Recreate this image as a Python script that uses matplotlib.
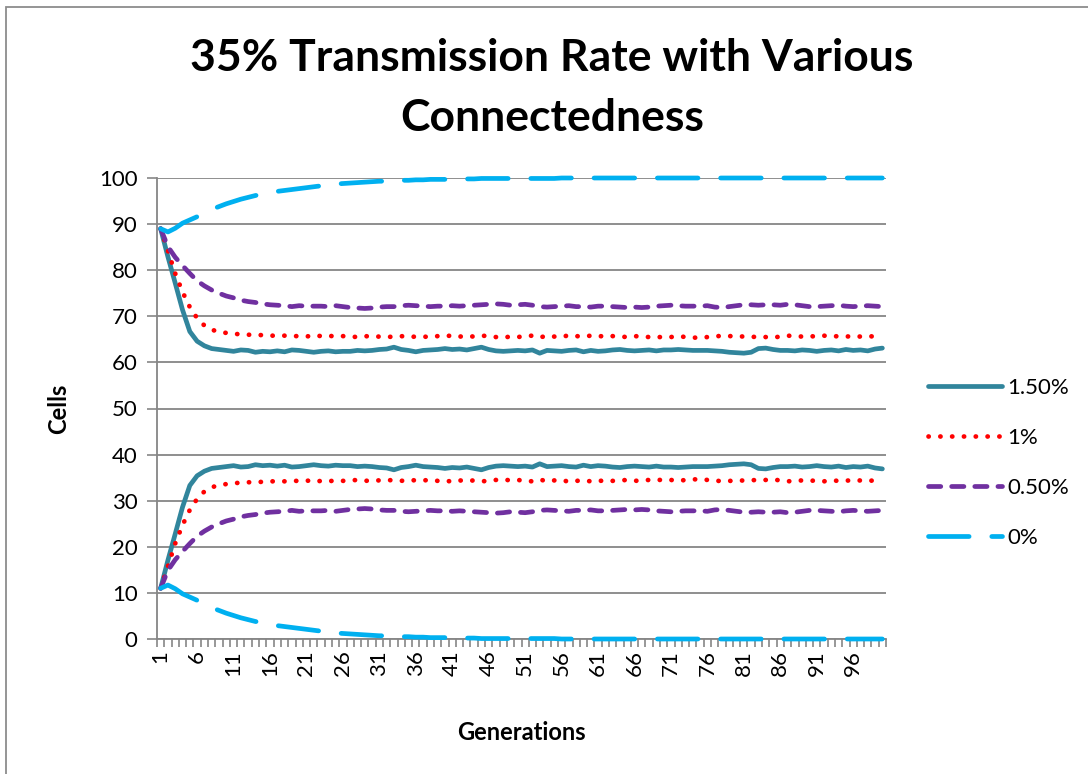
import matplotlib
matplotlib.use("Agg")
import matplotlib.pyplot as plt
from matplotlib.patches import Rectangle
from matplotlib.ticker import FixedLocator, NullFormatter

plt.rcParams['font.family'] = ['Lato', 'DejaVu Sans']

generations = list(range(1, 101))
x_tick_labels = [str(g) for g in range(1, 101, 5)]
series_names = ["1.50%", "1%", "0.50%", "0%"]

# Cells per generation for each connectedness level: the rising/falling
# pair of lines for every level (the two populations total 100 cells).
upper_150 = [
    89.0, 82.9, 77.2, 71.4, 66.7, 64.6, 63.6, 63.0, 62.8, 62.6,
    62.4, 62.7, 62.6, 62.2, 62.4, 62.3, 62.5, 62.3, 62.7, 62.6,
    62.4, 62.2, 62.4, 62.5, 62.3, 62.4, 62.4, 62.6, 62.5, 62.6,
    62.8, 62.9, 63.3, 62.8, 62.6, 62.3, 62.6, 62.7, 62.8, 63.0,
    62.8, 62.9, 62.7, 63.0, 63.3, 62.8, 62.5, 62.4, 62.5, 62.6,
    62.5, 62.7, 62.0, 62.6, 62.5, 62.4, 62.6, 62.7, 62.3, 62.6,
    62.4, 62.5, 62.7, 62.8, 62.6, 62.5, 62.6, 62.7, 62.5, 62.7,
    62.7, 62.8, 62.7, 62.6, 62.6, 62.6, 62.5, 62.4, 62.2, 62.1,
    62.0, 62.2, 63.0, 63.1, 62.8, 62.6, 62.6, 62.5, 62.7, 62.6,
    62.4, 62.6, 62.7, 62.5, 62.8, 62.6, 62.7, 62.5, 62.9, 63.1,
]
lower_150 = [
    11.0, 17.1, 22.8, 28.6, 33.3, 35.4, 36.4, 37.0, 37.2, 37.4,
    37.6, 37.3, 37.4, 37.8, 37.6, 37.7, 37.5, 37.7, 37.3, 37.4,
    37.6, 37.8, 37.6, 37.5, 37.7, 37.6, 37.6, 37.4, 37.5, 37.4,
    37.2, 37.1, 36.7, 37.2, 37.4, 37.7, 37.4, 37.3, 37.2, 37.0,
    37.2, 37.1, 37.3, 37.0, 36.7, 37.2, 37.5, 37.6, 37.5, 37.4,
    37.5, 37.3, 38.0, 37.4, 37.5, 37.6, 37.4, 37.3, 37.7, 37.4,
    37.6, 37.5, 37.3, 37.2, 37.4, 37.5, 37.4, 37.3, 37.5, 37.3,
    37.3, 37.2, 37.3, 37.4, 37.4, 37.4, 37.5, 37.6, 37.8, 37.9,
    38.0, 37.8, 37.0, 36.9, 37.2, 37.4, 37.4, 37.5, 37.3, 37.4,
    37.6, 37.4, 37.3, 37.5, 37.2, 37.4, 37.3, 37.5, 37.1, 36.9,
]
upper_100 = [
    89.0, 84.2, 79.3, 75.3, 72.0, 69.6, 68.0, 67.1, 66.6, 66.4,
    66.2, 66.1, 66.0, 66.0, 65.9, 65.8, 65.8, 65.8, 65.7, 65.7,
    65.6, 65.9, 65.7, 65.8, 65.6, 65.7, 65.6, 65.5, 65.7, 65.6,
    65.6, 65.5, 65.6, 65.7, 65.5, 65.6, 65.6, 65.5, 65.7, 65.6,
    65.9, 65.6, 65.7, 65.6, 65.8, 65.7, 65.5, 65.4, 65.6, 65.5,
    65.7, 65.8, 65.4, 65.8, 65.6, 65.5, 65.9, 65.7, 65.6, 65.8,
    65.6, 65.8, 65.7, 65.6, 65.5, 65.7, 65.6, 65.5, 65.4, 65.6,
    65.5, 65.7, 65.5, 65.4, 65.3, 65.5, 65.6, 65.8, 65.7, 65.7,
    65.6, 65.5, 65.6, 65.5, 65.4, 65.6, 65.8, 65.7, 65.6, 65.7,
    65.6, 65.8, 65.6, 65.7, 65.6, 65.7, 65.6, 65.7, 65.6, 65.6,
]
lower_100 = [
    11.0, 15.8, 20.7, 24.7, 28.0, 30.4, 32.0, 32.9, 33.4, 33.6,
    33.8, 33.9, 34.0, 34.0, 34.1, 34.2, 34.2, 34.2, 34.3, 34.3,
    34.4, 34.1, 34.3, 34.2, 34.4, 34.3, 34.4, 34.5, 34.3, 34.4,
    34.4, 34.5, 34.4, 34.3, 34.5, 34.4, 34.4, 34.5, 34.3, 34.4,
    34.1, 34.4, 34.3, 34.4, 34.2, 34.3, 34.5, 34.6, 34.4, 34.5,
    34.3, 34.2, 34.6, 34.2, 34.4, 34.5, 34.1, 34.3, 34.4, 34.2,
    34.4, 34.2, 34.3, 34.4, 34.5, 34.3, 34.4, 34.5, 34.6, 34.4,
    34.5, 34.3, 34.5, 34.6, 34.7, 34.5, 34.4, 34.2, 34.3, 34.3,
    34.4, 34.5, 34.4, 34.5, 34.6, 34.4, 34.2, 34.3, 34.4, 34.3,
    34.4, 34.2, 34.4, 34.3, 34.4, 34.3, 34.4, 34.3, 34.4, 34.4,
]
upper_050 = [
    89.0, 85.1, 82.8, 81.0, 79.3, 77.7, 76.6, 75.7, 75.0, 74.4,
    74.0, 73.5, 73.2, 73.0, 72.7, 72.5, 72.4, 72.3, 72.1, 72.3,
    72.2, 72.2, 72.2, 72.1, 72.3, 72.1, 71.9, 71.8, 71.7, 71.8,
    72.0, 72.1, 72.1, 72.3, 72.4, 72.3, 72.2, 72.1, 72.2, 72.2,
    72.3, 72.2, 72.3, 72.4, 72.5, 72.6, 72.7, 72.6, 72.4, 72.5,
    72.6, 72.4, 72.1, 72.0, 72.1, 72.2, 72.3, 72.1, 72.1, 72.0,
    72.2, 72.2, 72.1, 72.0, 71.9, 72.0, 71.9, 72.0, 72.2, 72.3,
    72.4, 72.3, 72.2, 72.2, 72.2, 72.3, 72.0, 71.9, 72.1, 72.3,
    72.5, 72.5, 72.4, 72.5, 72.5, 72.4, 72.6, 72.5, 72.3, 72.1,
    72.1, 72.2, 72.3, 72.4, 72.2, 72.1, 72.2, 72.3, 72.2, 72.1,
]
lower_050 = [
    11.0, 14.9, 17.2, 19.0, 20.7, 22.3, 23.4, 24.3, 25.0, 25.6,
    26.0, 26.5, 26.8, 27.0, 27.3, 27.5, 27.6, 27.7, 27.9, 27.7,
    27.8, 27.8, 27.8, 27.9, 27.7, 27.9, 28.1, 28.2, 28.3, 28.2,
    28.0, 27.9, 27.9, 27.7, 27.6, 27.7, 27.8, 27.9, 27.8, 27.8,
    27.7, 27.8, 27.7, 27.6, 27.5, 27.4, 27.3, 27.4, 27.6, 27.5,
    27.4, 27.6, 27.9, 28.0, 27.9, 27.8, 27.7, 27.9, 27.9, 28.0,
    27.8, 27.8, 27.9, 28.0, 28.1, 28.0, 28.1, 28.0, 27.8, 27.7,
    27.6, 27.7, 27.8, 27.8, 27.8, 27.7, 28.0, 28.1, 27.9, 27.7,
    27.5, 27.5, 27.6, 27.5, 27.5, 27.6, 27.4, 27.5, 27.7, 27.9,
    27.9, 27.8, 27.7, 27.6, 27.8, 27.9, 27.8, 27.7, 27.8, 27.9,
]
upper_000 = [
    89.0, 88.3, 89.1, 90.2, 90.9, 91.6, 92.5, 93.2, 93.8, 94.4,
    94.9, 95.4, 95.8, 96.2, 96.5, 96.8, 97.1, 97.3, 97.5, 97.7,
    97.9, 98.1, 98.3, 98.5, 98.7, 98.8, 98.9, 99.0, 99.1, 99.2,
    99.3, 99.3, 99.4, 99.5, 99.5, 99.6, 99.6, 99.7, 99.7, 99.7,
    99.8, 99.8, 99.8, 99.8, 99.9, 99.9, 99.9, 99.9, 99.9, 99.9,
    99.9, 99.9, 99.9, 99.9, 99.9, 100.0, 100.0, 100.0, 100.0, 100.0,
    100.0, 100.0, 100.0, 100.0, 100.0, 100.0, 100.0, 100.0, 100.0, 100.0,
    100.0, 100.0, 100.0, 100.0, 100.0, 100.0, 100.0, 100.0, 100.0, 100.0,
    100.0, 100.0, 100.0, 100.0, 100.0, 100.0, 100.0, 100.0, 100.0, 100.0,
    100.0, 100.0, 100.0, 100.0, 100.0, 100.0, 100.0, 100.0, 100.0, 100.0,
]
lower_000 = [
    11.0, 11.7, 10.9, 9.8, 9.1, 8.4, 7.5, 6.8, 6.2, 5.6,
    5.1, 4.6, 4.2, 3.8, 3.5, 3.2, 2.9, 2.7, 2.5, 2.3,
    2.1, 1.9, 1.7, 1.5, 1.3, 1.2, 1.1, 1.0, 0.9, 0.8,
    0.7, 0.7, 0.6, 0.5, 0.5, 0.4, 0.4, 0.3, 0.3, 0.3,
    0.2, 0.2, 0.2, 0.2, 0.1, 0.1, 0.1, 0.1, 0.1, 0.1,
    0.1, 0.1, 0.1, 0.1, 0.1, 0.0, 0.0, 0.0, 0.0, 0.0,
    0.0, 0.0, 0.0, 0.0, 0.0, 0.0, 0.0, 0.0, 0.0, 0.0,
    0.0, 0.0, 0.0, 0.0, 0.0, 0.0, 0.0, 0.0, 0.0, 0.0,
    0.0, 0.0, 0.0, 0.0, 0.0, 0.0, 0.0, 0.0, 0.0, 0.0,
    0.0, 0.0, 0.0, 0.0, 0.0, 0.0, 0.0, 0.0, 0.0, 0.0,
]

series_pairs = [
    (upper_150, lower_150),
    (upper_100, lower_100),
    (upper_050, lower_050),
    (upper_000, lower_000),
]

LW = 3.4
styles = [
    dict(color="#31859C", linestyle="-", solid_capstyle="round", solid_joinstyle="round"),
    dict(color="#FF0000", dashes=(0.05, 2.45), dash_capstyle="round"),
    dict(color="#7030A0", dashes=(2.6, 2.3), dash_capstyle="round"),
    dict(color="#00B0F0", dashes=(8.6, 4.8), dash_capstyle="round"),
]

fig = plt.figure(figsize=(10.88, 7.74), dpi=100)
ax = fig.add_axes([157 / 1088, 1 - 639 / 774, 729 / 1088, 461 / 774])

grid_c = "#868686"
handles = []
for name, (up, low), st in zip(series_names, series_pairs, styles):
    h, = ax.plot(generations, up, lw=LW, label=name, clip_on=False, zorder=3, **st)
    ax.plot(generations, low, lw=LW, clip_on=False, zorder=3, **st)
    handles.append(h)

ax.set_xlim(0.5, 100.5)
ax.set_ylim(0, 100)
ax.set_yticks(range(0, 101, 10))
ax.yaxis.grid(True, color=grid_c, lw=1.3)
ax.set_axisbelow(True)

ax.set_xticks(range(1, 101, 5))
ax.set_xticklabels(x_tick_labels, rotation=90)
ax.xaxis.set_minor_locator(FixedLocator([b + 0.5 for b in range(0, 101)]))
ax.xaxis.set_minor_formatter(NullFormatter())
ax.tick_params(axis="x", which="major", length=0, pad=8, labelsize=16)
ax.tick_params(axis="x", which="minor", length=6, width=1.2, color=grid_c, direction="out")
ax.tick_params(axis="y", which="major", length=7, width=1.2, color=grid_c, pad=7, labelsize=16)

for side in ("top", "right"):
    ax.spines[side].set_visible(False)
for side in ("left", "bottom"):
    ax.spines[side].set_color(grid_c)
    ax.spines[side].set_linewidth(1.3)

ax.set_ylabel("Cells", fontsize=17, fontweight="bold", labelpad=21)
ax.set_xlabel("Generations", fontsize=17, fontweight="bold", labelpad=32)

fig.suptitle("35% Transmission Rate with Various\nConnectedness",
             x=552 / 1088, y=1 - 38 / 774, va="top",
             fontsize=32, fontweight="bold", linespacing=1.6)

leg = ax.legend(handles=handles, loc="center left", bbox_to_anchor=(1.0, 0.382),
                frameon=False, fontsize=16, handlelength=3.3, handletextpad=0.25,
                labelspacing=1.35, borderaxespad=1.5)

fig.add_artist(Rectangle((6 / 1088, -0.05), 1.2, 1 - 7 / 774 + 0.05,
                         transform=fig.transFigure, fill=False,
                         edgecolor="#8C8C8C", lw=1.3))

fig.savefig("out.png", dpi=100)
